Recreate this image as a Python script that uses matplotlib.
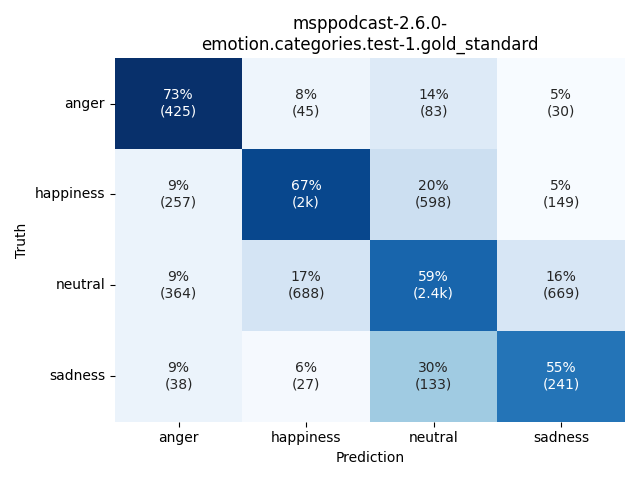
import numpy as np
import matplotlib
matplotlib.use("Agg")
import matplotlib.pyplot as plt
import seaborn as sns

labels = ["anger", "happiness", "neutral", "sadness"]
percent = [
    [73, 8, 14, 5],
    [9, 67, 20, 5],
    [9, 17, 59, 16],
    [9, 6, 30, 55],
]
counts = [
    [425, 45, 83, 30],
    [257, 2000, 598, 149],
    [364, 688, 2400, 669],
    [38, 27, 133, 241],
]
title = "msppodcast-2.6.0-\nemotion.categories.test-1.gold_standard"


def fmt_count(v):
    if v >= 1000:
        s = f"{v/1000:.1f}".rstrip("0").rstrip(".")
        return s + "k"
    return str(v)


annot = np.array([[f"{p}%\n({fmt_count(c)})" for p, c in zip(pr, cr)]
                  for pr, cr in zip(percent, counts)])

fig, ax = plt.subplots(figsize=(6.4, 4.8), dpi=100)
sns.heatmap(np.array(percent), annot=annot, fmt="", cmap="Blues", cbar=False,
            xticklabels=labels, yticklabels=labels, ax=ax)
ax.set_xlabel("Prediction")
ax.set_ylabel("Truth")
ax.set_title(title)
plt.setp(ax.get_yticklabels(), rotation=0)
fig.tight_layout()
fig.savefig("out.png")
